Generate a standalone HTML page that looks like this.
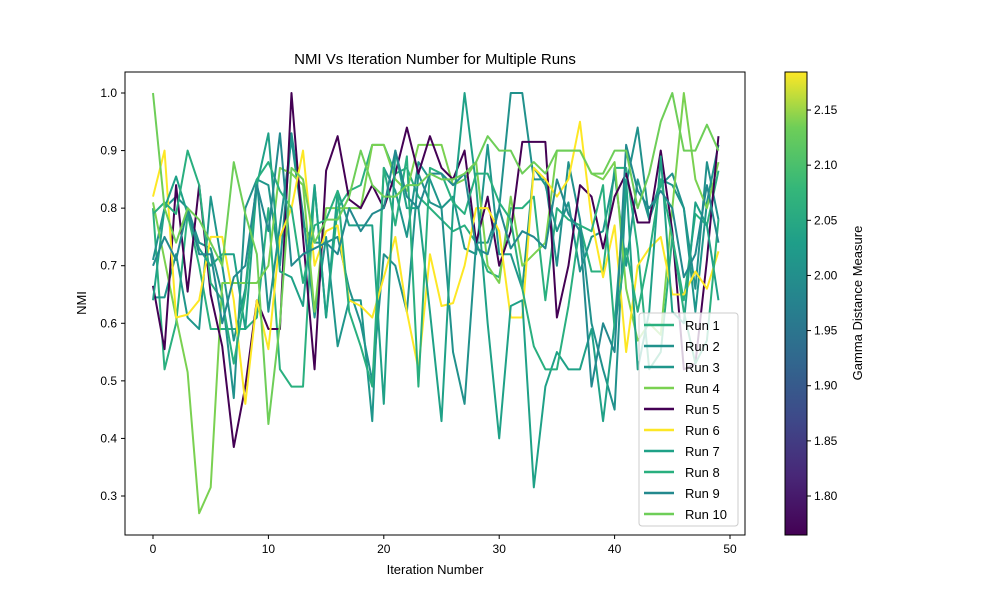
<!DOCTYPE html>
<html><head><meta charset="utf-8"><style>body{margin:0;background:#fff}svg{font-family:"Liberation Sans",sans-serif}</style></head>
<body>
<svg id="chart" width="1000" height="600" xmlns="http://www.w3.org/2000/svg">
<defs><linearGradient id="vir" x1="0" y1="1" x2="0" y2="0">
<stop offset="0" stop-color="#440154"/><stop offset="0.13" stop-color="#482878"/><stop offset="0.25" stop-color="#3e4989"/><stop offset="0.38" stop-color="#31688e"/><stop offset="0.5" stop-color="#26828e"/><stop offset="0.63" stop-color="#1f9e89"/><stop offset="0.75" stop-color="#35b779"/><stop offset="0.88" stop-color="#6ece58"/><stop offset="1" stop-color="#fde725"/></linearGradient>
<clipPath id="plotclip"><rect x="125" y="72" width="620" height="463"/></clipPath></defs>
<text x="435" y="64" text-anchor="middle" font-size="15">NMI Vs Iteration Number for Multiple Runs</text>
<g id="lines" clip-path="url(#plotclip)"></g>
<rect x="125" y="72" width="620" height="463" fill="none" stroke="#000" stroke-width="1"/>
<g id="axes"></g>
<text x="435" y="574" text-anchor="middle" font-size="13">Iteration Number</text>
<text transform="translate(86,303) rotate(-90)" text-anchor="middle" font-size="13">NMI</text>
<rect x="785" y="72" width="22" height="463" fill="url(#vir)" stroke="#000" stroke-width="1"/>
<g id="cbticks"></g>
<text transform="translate(862,303) rotate(-90)" text-anchor="middle" font-size="13">Gamma Distance Measure</text>
<g id="legend"></g>
</svg>
<script>
const runNames=["Run 1","Run 2","Run 3","Run 4","Run 5","Run 6","Run 7","Run 8","Run 9","Run 10"];
const runColors=["#2ab07f","#21918c","#1f968b","#7ad151","#440154","#fde725","#1fa187","#29af7f","#23898e","#6ece58"];
const run1=[0.80,0.52,0.60,0.79,0.70,0.59,0.59,0.59,0.59,0.61,0.80,0.52,0.49,0.49,0.84,0.61,0.80,0.83,0.84,0.91,0.91,0.86,0.87,0.82,0.80,0.78,0.76,0.77,0.74,0.69,0.68,0.80,0.80,0.82,0.64,0.80,0.78,0.77,0.69,0.69,0.87,0.87,0.73,0.52,0.55,0.75,0.64,0.79,0.77,0.865];
const run2=[0.71,0.80,0.82,0.80,0.74,0.73,0.65,0.47,0.80,0.85,0.62,0.77,0.92,0.77,0.74,0.74,0.75,0.66,0.60,0.50,0.72,0.70,0.62,0.86,0.81,0.80,0.55,0.46,0.74,0.74,0.80,1.0,1.0,0.85,0.85,0.70,0.88,0.78,0.60,0.52,0.45,0.84,0.94,0.78,0.84,0.86,0.80,0.66,0.88,0.78];
const run3=[0.645,0.645,0.72,0.61,0.59,0.82,0.70,0.57,0.66,0.85,0.84,0.70,0.93,0.79,0.61,0.75,0.56,0.64,0.64,0.43,0.87,0.83,0.75,0.88,0.85,0.80,0.82,0.73,0.72,0.91,0.72,0.72,0.66,0.87,0.84,0.76,0.81,0.69,0.75,0.76,0.86,0.70,0.85,0.78,0.85,0.84,0.80,0.62,0.81,0.91];
const run4=[0.81,0.71,0.61,0.515,0.27,0.315,0.67,0.67,0.67,0.67,0.70,0.87,0.86,0.84,0.62,0.80,0.80,0.80,0.80,0.91,0.91,0.85,0.83,0.91,0.91,0.91,0.84,0.85,0.88,0.70,0.67,0.82,0.70,0.72,0.74,0.90,0.90,0.90,0.86,0.85,0.88,0.66,0.57,0.60,0.58,0.80,1.0,0.85,0.80,0.88];
const run5=[0.665,0.555,0.84,0.655,0.84,0.65,0.56,0.385,0.49,0.64,0.59,0.59,1.0,0.75,0.52,0.865,0.925,0.815,0.80,0.84,0.80,0.86,0.94,0.86,0.925,0.87,0.85,0.90,0.74,0.82,0.70,0.76,0.915,0.915,0.915,0.61,0.70,0.84,0.82,0.73,0.82,0.86,0.775,0.775,0.90,0.76,0.52,0.53,0.71,0.925];
const run6=[0.82,0.90,0.61,0.615,0.64,0.75,0.75,0.64,0.46,0.64,0.555,0.75,0.80,0.90,0.70,0.76,0.77,0.64,0.63,0.61,0.68,0.75,0.62,0.52,0.72,0.63,0.635,0.70,0.80,0.80,0.76,0.61,0.61,0.87,0.85,0.82,0.85,0.95,0.78,0.68,0.77,0.55,0.70,0.73,0.75,0.65,0.65,0.69,0.66,0.725];
const run7=[0.64,0.80,0.855,0.79,0.73,0.70,0.72,0.72,0.59,0.84,0.93,0.69,0.68,0.63,0.84,0.61,0.83,0.77,0.77,0.77,0.46,0.90,0.80,0.80,0.62,0.43,0.80,1.0,0.84,0.60,0.40,0.63,0.64,0.315,0.49,0.55,0.52,0.52,0.59,0.43,0.60,0.85,0.52,0.62,0.89,0.62,0.60,0.81,0.77,0.64];
const run8=[0.79,0.81,0.79,0.90,0.84,0.67,0.64,0.53,0.65,0.85,0.88,0.83,0.80,0.67,0.77,0.78,0.83,0.62,0.56,0.49,0.87,0.77,0.89,0.49,0.87,0.86,0.81,0.79,0.86,0.86,0.81,0.78,0.66,0.56,0.52,0.52,0.63,0.77,0.76,0.84,0.59,0.73,0.62,0.72,0.85,0.75,0.62,0.53,0.57,0.78];
const run9=[0.70,0.75,0.71,0.80,0.72,0.72,0.60,0.68,0.70,0.84,0.76,0.93,0.70,0.72,0.73,0.74,0.72,0.80,0.76,0.79,0.80,0.90,0.82,0.80,0.86,0.86,0.84,0.86,0.73,0.72,0.80,0.73,0.76,0.75,0.73,0.85,0.79,0.76,0.49,0.60,0.55,0.91,0.83,0.80,0.83,0.80,0.68,0.72,0.84,0.74];
const run10=[1.0,0.80,0.74,0.80,0.78,0.74,0.70,0.88,0.79,0.72,0.425,0.60,0.87,0.85,0.74,0.78,0.78,0.82,0.90,0.84,0.82,0.82,0.84,0.84,0.86,0.85,0.85,0.86,0.88,0.925,0.90,0.90,0.86,0.88,0.86,0.90,0.90,0.90,0.86,0.86,0.90,0.90,0.80,0.86,0.95,1.0,0.90,0.90,0.945,0.90];
const xTicks=[0,10,20,30,40,50];
const yTicks=[0.3,0.4,0.5,0.6,0.7,0.8,0.9,1.0];
const cbTicks=[1.80,1.85,1.90,1.95,2.00,2.05,2.10,2.15];
const series=[run1,run2,run3,run4,run5,run6,run7,run8,run9,run10];
const NS="http://www.w3.org/2000/svg";
const X=v=>153+v*11.54, Y=v=>93+(1.0-v)*575.7, CB=v=>496-(v-1.80)*1102.8;
function mk(t,a,p){const e=document.createElementNS(NS,t);for(const k in a)e.setAttribute(k,a[k]);p.appendChild(e);return e;}
const lines=document.getElementById('lines');
series.forEach((s,i)=>{
 const p=mk('polyline',{points:s.map((v,j)=>X(j)+','+Y(v)).join(' '),fill:'none',stroke:runColors[i],'stroke-width':2,'stroke-linejoin':'round'},lines);
 
 
});
const ax=document.getElementById('axes');
xTicks.forEach(t=>{const g=mk('g',{},ax);
 
 
 mk('line',{x1:X(t),x2:X(t),y1:535,y2:539,stroke:'#000'},g);
 const tx=mk('text',{x:X(t),y:553,'text-anchor':'middle','font-size':12},g);tx.textContent=t;});
yTicks.forEach(t=>{const g=mk('g',{},ax);
 
 
 mk('line',{x1:121,x2:125,y1:Y(t),y2:Y(t),stroke:'#000'},g);
 const tx=mk('text',{x:117,y:Y(t)+4,'text-anchor':'end','font-size':12},g);tx.textContent=t.toFixed(1);});
const cb=document.getElementById('cbticks');
cbTicks.forEach(t=>{const g=mk('g',{},cb);
 
 
 mk('line',{x1:807,x2:811,y1:CB(t),y2:CB(t),stroke:'#000'},g);
 const tx=mk('text',{x:814,y:CB(t)+4,'font-size':12},g);tx.textContent=t.toFixed(2);});
const lg=document.getElementById('legend');


mk('rect',{x:639,y:313,width:99,height:213,rx:3,fill:'#fff','fill-opacity':0.8,stroke:'#ccc'},lg);
runNames.forEach((n,i)=>{const g=mk('g',{},lg);
 
 
 const y=325+i*21;
 mk('line',{x1:644,x2:674,y1:y,y2:y,stroke:runColors[i],'stroke-width':2.5},g);
 const tx=mk('text',{x:685,y:y+5,'font-size':13},g);tx.textContent=n;});
</script>
</body></html>
